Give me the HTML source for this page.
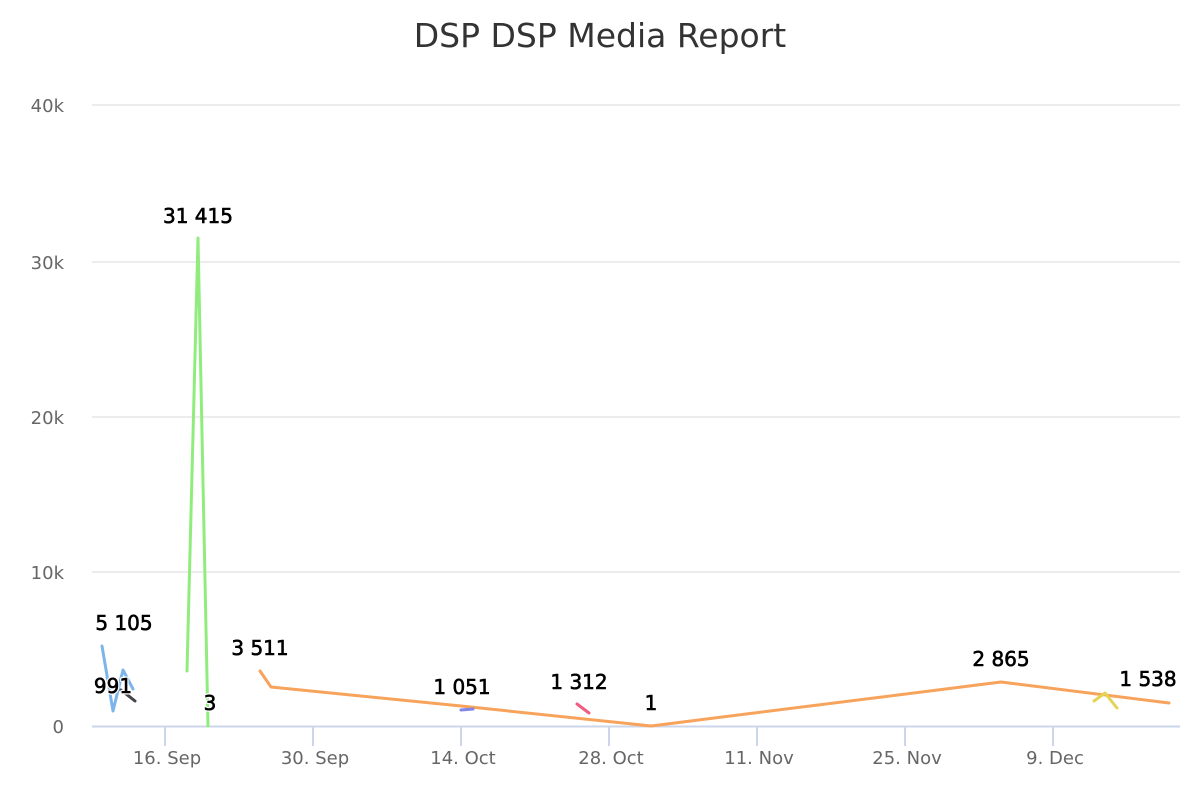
<!DOCTYPE html>
<html><head><style>
html,body{margin:0;padding:0;background:#fff}
svg{display:block;font-family:"DejaVu Sans","Liberation Sans",sans-serif}
.lbl{font-size:20px;fill:#000;text-anchor:middle;stroke:#fff;stroke-width:3px;paint-order:stroke;stroke-linejoin:round}
.lb2{font-size:20px;fill:#000;text-anchor:middle;stroke:#000;stroke-width:0.6px}
.ax{font-size:18px;fill:#666}
</style></head><body>
<svg width="1200" height="800" viewBox="0 0 1200 800">
<text x="600" y="47" text-anchor="middle" font-size="33" fill="#333">DSP DSP Media Report</text>
<g stroke="#e6e6e6" stroke-width="1.5">
<line x1="92" x2="1180" y1="105" y2="105"/><line x1="92" x2="1180" y1="262" y2="262"/>
<line x1="92" x2="1180" y1="417" y2="417"/><line x1="92" x2="1180" y1="572" y2="572"/>
</g>
<line x1="92" x2="1180" y1="726.5" y2="726.5" stroke="#ccd6eb" stroke-width="2"/>
<g stroke="#ccd6eb" stroke-width="2">
<line x1="165" x2="165" y1="726" y2="746"/><line x1="313" x2="313" y1="726" y2="746"/>
<line x1="461" x2="461" y1="726" y2="746"/><line x1="609" x2="609" y1="726" y2="746"/>
<line x1="757" x2="757" y1="726" y2="746"/><line x1="905" x2="905" y1="726" y2="746"/>
<line x1="1053" x2="1053" y1="726" y2="746"/>
</g>
<g class="ax" text-anchor="end">
<text x="64" y="112">40k</text><text x="64" y="269">30k</text><text x="64" y="424">20k</text>
<text x="64" y="579">10k</text><text x="64" y="733">0</text>
</g>
<g class="ax" text-anchor="middle">
<text x="167" y="764">16. Sep</text><text x="315" y="764">30. Sep</text><text x="463" y="764">14. Oct</text>
<text x="611" y="764">28. Oct</text><text x="759" y="764">11. Nov</text><text x="907" y="764">25. Nov</text>
<text x="1055" y="764">9. Dec</text>
</g>
<g fill="none" stroke-width="3" stroke-linejoin="round" stroke-linecap="round">
<polyline stroke="#7cb5ec" points="102,646 113,711 123,670 133,689"/>
<polyline stroke="#434348" points="121,690 135,701"/>
<polyline stroke="#90ed7d" points="187,671 198,238 208,726"/>
<polyline stroke="#f7a35c" points="260,671 271,687 461,706 651,726 1001,682 1169,703"/>
<polyline stroke="#8085e9" points="461,710 473,709"/>
<polyline stroke="#f15c80" points="577,704 589,713"/>
<polyline stroke="#e4d354" points="1094,701 1105,693 1117,708"/>
</g>
<g class="lbl">
<text x="124" y="630">5 105</text><text x="113" y="693">991</text>
<text x="198" y="223">31 415</text><text x="210" y="710">3</text>
<text x="260" y="655">3 511</text><text x="462" y="694">1 051</text>
<text x="579" y="689">1 312</text><text x="651" y="710">1</text>
<text x="1001" y="666">2 865</text><text x="1148" y="686">1 538</text>
</g>
<g class="lb2">
<text x="124" y="630">5 105</text><text x="113" y="693">991</text>
<text x="198" y="223">31 415</text><text x="210" y="710">3</text>
<text x="260" y="655">3 511</text><text x="462" y="694">1 051</text>
<text x="579" y="689">1 312</text><text x="651" y="710">1</text>
<text x="1001" y="666">2 865</text><text x="1148" y="686">1 538</text>
</g>
</svg>
</body></html>
